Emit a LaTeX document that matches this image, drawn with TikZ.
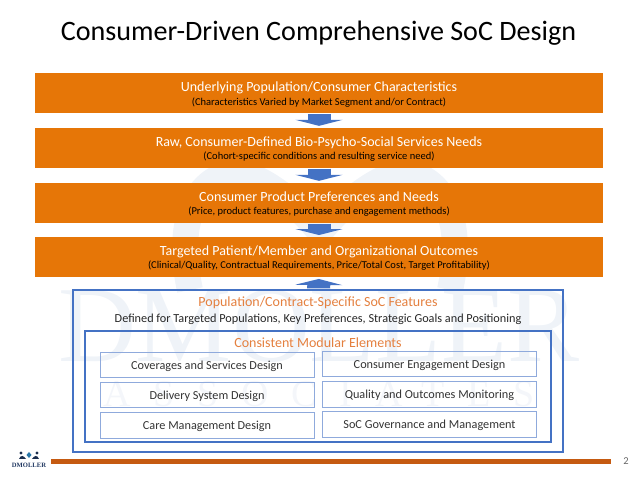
\documentclass[tikz,border=0pt]{standalone}
\usepackage{fontspec}
\setmainfont{Carlito}
\newfontfamily\logofont{Liberation Serif}
\newfontfamily\spacedfont[LetterSpace=60]{Liberation Serif}
\usetikzlibrary{arrows.meta}
\definecolor{bannerorange}{HTML}{E67607}
\definecolor{headorange}{HTML}{E4803F}
\definecolor{arrowblue}{HTML}{4472C4}
\definecolor{moduleblue}{HTML}{8FAADC}
\definecolor{rulebrown}{HTML}{C55A11}
\definecolor{markblue}{HTML}{EFF3F8}
\definecolor{markpale}{HTML}{F4F6FA}
\newcommand{\bannertext}[2]{#1\rule{0pt}{12pt}\\[-0.5pt]{\fontsize{10.5}{14}\selectfont\color{black}#2}}
\tikzset{
  banner/.style={fill=bannerorange, minimum width=568pt, minimum height=39.5pt, inner sep=0pt, align=center, text=white, font=\fontsize{14}{14}\selectfont},
  flow/.style={draw=arrowblue, line width=23pt, shorten >=2pt, shorten <=1pt, -{Triangle[width=47pt,length=6pt]}},
  framebox/.style={draw=arrowblue, line width=1.2pt, inner sep=0pt},
  module/.style={draw=moduleblue, line width=0.8pt, minimum width=214pt, minimum height=25.5pt, inner sep=0pt, text height=9pt, text depth=0pt, font=\fontsize{12.24}{14}\selectfont, text=black!80},
  headline/.style={text=headorange, font=\fontsize{14}{14}\selectfont, inner sep=0pt}
}
\begin{document}
\begin{tikzpicture}[x=1pt,y=-1pt]
  \useasboundingbox (0,0) rectangle (638,478);
  %watermark behind everything
  \draw[markblue, line width=26pt] (190,290) .. controls (170,200) and (215,160) .. (255,178) .. controls (285,192) and (305,215) .. (320,232) .. controls (335,215) and (355,192) .. (385,178) .. controls (425,160) and (470,200) .. (450,290);
  \node[text=markblue, font=\logofont\fontsize{108}{108}\selectfont, inner sep=0pt] (markname) at (319,326){DMOLLER};
  \node[text=markpale, font=\spacedfont\fontsize{38}{38}\selectfont, inner sep=0pt] (marksub) at (319,394){ASSOCIATES};

  \node (title) at (318.5,33){\fontsize{28.1}{30}\selectfont Consumer-Driven Comprehensive SoC Design};

  \node[banner] (under) at (319,93.2){\bannertext{Underlying Population/Consumer Characteristics}{(Characteristics Varied by Market Segment and/or Contract)}};
  \node[banner] (raw) at (319,147.8){\bannertext{Raw, Consumer-Defined Bio-Psycho-Social Services Needs}{(Cohort-specific conditions and resulting service need)}};
  \node[banner] (prefs) at (319,202.8){\bannertext{Consumer Product Preferences and Needs}{(Price, product features, purchase and engagement methods)}};
  \node[banner] (goals) at (319,257){\bannertext{Targeted Patient/Member and Organizational Outcomes}{(Clinical/Quality, Contractual Requirements, Price/Total Cost, Target Profitability)}};

  \node[framebox, minimum width=490pt, minimum height=162pt] (outer) at (318,371){};
  \node[framebox, minimum width=466pt, minimum height=111pt] (inner) at (318,386.5){};

  \draw[flow] (under) -- (raw);
  \draw[flow] (raw) -- (prefs);
  \draw[flow] (prefs) -- (goals);
  \draw[flow] (outer) -- (goals);

  \node[headline] (feat) at (318,302.5){Population/Contract-Specific SoC Features};
  \node[inner sep=0pt, text=black!85, font=\fontsize{12.24}{14}\selectfont] (defd) at (318,319){Defined for Targeted Populations, Key Preferences, Strategic Goals and Positioning};
  \node[headline] (cons) at (318,343){Consistent Modular Elements};

  \node[module] (c1) at (207,364.8){Coverages and Services Design};
  \node[module] (c2) at (207,395){Delivery System Design};
  \node[module] (c3) at (207,425.3){Care Management Design};
  \node[module] (e1) at (429.5,364){Consumer Engagement Design};
  \node[module] (e2) at (429.5,394.3){Quality and Outcomes Monitoring};
  \node[module] (e3) at (429.5,424.5){SoC Governance and Management};

  \fill[rulebrown] (50.5,459.3) rectangle (611,464.2);
  \node[text=black!60, font=\fontsize{10.5}{12}\selectfont, inner sep=0pt] (pageno) at (626,461.5){2};

  %small logo
  \fill[arrowblue!60!teal] (29,452) -- (31.5,455) -- (29,458) -- (26.5,455) -- cycle;
  \fill[arrowblue!40!black] (21,453) circle (1.6pt) (37,453) circle (1.6pt);
  \fill[arrowblue!40!black] (19,459) .. controls (21,454) and (24,456) .. (26,459) -- cycle;
  \fill[arrowblue!40!black] (32,459) .. controls (34,456) and (37,454) .. (39,459) -- cycle;
  \node[text=arrowblue!50!black, font=\logofont\bfseries\fontsize{6.6}{7}\selectfont, inner sep=0pt] (logoname) at (29,465.5){DMOLLER};
\end{tikzpicture}
\end{document}
